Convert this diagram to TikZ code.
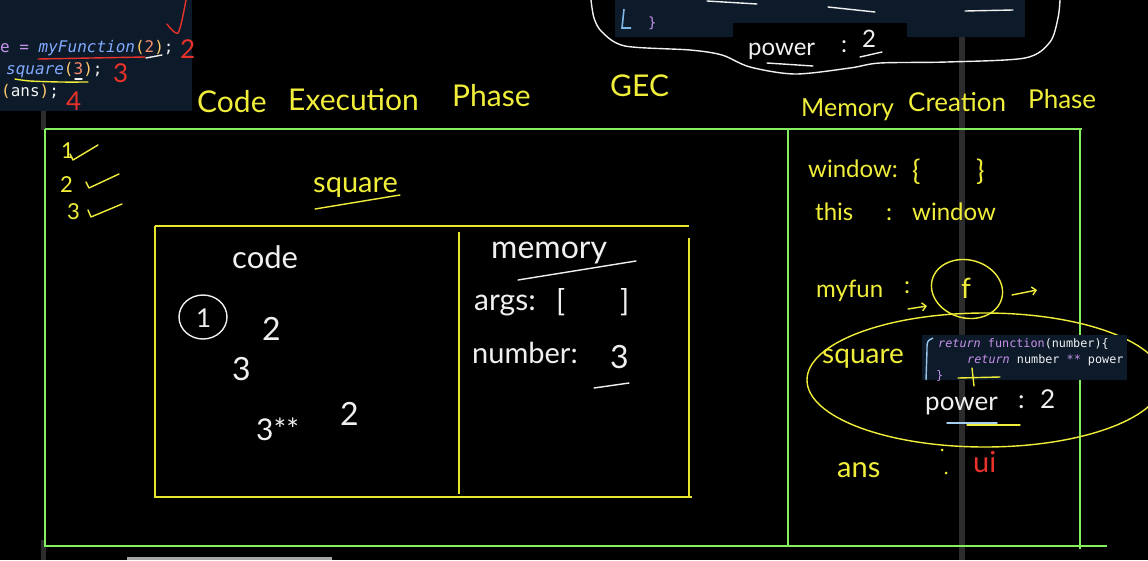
\documentclass[tikz,border=0pt]{standalone}
\usepackage{fontspec}
\setmainfont{Lato}
\newfontfamily\codefont{DejaVu Sans Mono}
\usetikzlibrary{arrows.meta}
\definecolor{Board}{HTML}{000000}
\definecolor{Chalk}{HTML}{F0F0F0}
\definecolor{Marker}{HTML}{F0EE3A}
\definecolor{BoxYellow}{HTML}{E8E62A}
\definecolor{Frame}{HTML}{84F060}
\definecolor{Ink}{HTML}{E8322A}
\definecolor{Panel}{HTML}{0C1A2A}
\definecolor{Seam}{HTML}{2C2C2C}
\definecolor{KwPurple}{HTML}{C792EA}
\definecolor{FnBlue}{HTML}{82AAFF}
\definecolor{ParenGold}{HTML}{FFCB6B}
\definecolor{NumOrange}{HTML}{F78C6C}
\definecolor{PaleBlue}{HTML}{7FB8E8}

\begin{document}
\begin{tikzpicture}[x=1pt,y=-1pt,
txt/.style={anchor=base west,inner sep=0pt,text=Marker,font=\fontsize{26}{26}\selectfont},
wtxt/.style={txt,text=Chalk},
rtxt/.style={txt,text=Ink},
head/.style={txt,font=\fontsize{30}{30}\selectfont},
code/.style={anchor=base west,inner sep=0pt,text=Chalk!85,font=\codefont\fontsize{16}{16}\selectfont},
snip/.style={code,font=\codefont\fontsize{11.8}{12}\selectfont},
pen/.style={line width=1.4pt,line cap=round,line join=round},
arr/.style={pen,-{Straight Barb[length=4pt]}}]
\useasboundingbox (0,0) rectangle (1148,560);
\fill[Board] (0,0) rectangle (1148,560);
\clip (0,0) rectangle (1148,560);

% screen seams and code panels
\fill[Seam] (959,37) rectangle (965,560);
\fill[Seam] (41,110) rectangle (46,130);
\fill[Seam] (41,540) rectangle (46,560);
\fill[gray!70] (127,557) rectangle (332,560);
\fill[Panel] (0,0) rectangle (192,111);
\fill[Panel] (615,0) rectangle (1025,37);
\fill[Board] (733,23) rectangle (907,37);

% left code
\node[code] (l1) at (0,52) {{\color{KwPurple}e =} {\color{FnBlue}\itshape myFunction}{\color{ParenGold}(}{\color{NumOrange}2}{\color{ParenGold})};};
\node[code] (l2) at (6,74) {{\color{FnBlue}\itshape square}{\color{ParenGold}(}{\color{NumOrange}3}{\color{ParenGold})};};
\node[code] (l3) at (1,96) {{\color{ParenGold}(}ans{\color{ParenGold})};};
\draw[pen,Ink] (38,59) -- (145,57);
\draw[pen,Chalk] (146,58) -- (162,55);
\draw[pen,Marker] plot[smooth] coordinates {(15,79) (30,81) (60,82) (88,82)};
\draw[pen,Chalk] (75,79) -- (82,79);
\draw[pen,Ink] plot[smooth] coordinates {(167,24) (172,30) (178,33) (182,20) (186,0)};
\node[rtxt] (n2) at (180,58) {2};
\node[rtxt] (n3) at (113,82) {3};
\node[rtxt] (n4) at (66,110) {4};

% top code fragment
\draw[line width=1.6pt,PaleBlue] (624,9) -- (622,28) -- (631,28);
\node[code,text=KwPurple,font=\codefont\fontsize{14}{14}\selectfont] (brc) at (648,27) {\}};
\draw[pen,Chalk] (707,1) -- (757,4);
\draw[pen,Chalk] (828,7) -- (875,12);
\draw[pen,Chalk] (965,11) -- (1013,10);
\node[wtxt,font=\fontsize{24}{24}\selectfont] (pw1) at (748,55) {power};
\node[wtxt,font=\fontsize{24}{24}\selectfont] (pc1) at (841,52) {:};
\node[wtxt,font=\fontsize{24}{24}\selectfont] (pv1) at (862,47) {2};
\draw[pen,Chalk] (767,63) -- (813,66);
\draw[pen,Chalk] (860,57) -- (882,52);
\draw[pen,Chalk] plot[smooth] coordinates {(591,0) (594,18) (602,32) (625,46) (690,50) (722,55) (750,67) (795,74) (850,68) (880,63) (947,62) (1025,58) (1050,42) (1058,18) (1060,0)};

% headings
\node[head] (h1) at (197,112) {Code};
\node[head] (h2) at (288,110) {Execution};
\node[head] (h3) at (452,106) {Phase};
\node[head] (h4) at (610,96) {GEC};
\node[head,font=\fontsize{25}{25}\selectfont] (m1) at (801,116) {Memory};
\node[head,font=\fontsize{26}{26}\selectfont] (m2) at (908,111) {Creation};
\node[head,font=\fontsize{26}{26}\selectfont] (m3) at (1028,108) {Phase};

% frames
\draw[Frame,line width=2pt] (45,129) -- (1082,129);
\draw[Frame,line width=2pt] (45,129) -- (45,546) -- (1107,546);
\draw[Frame,line width=1.6pt] (1080,128) -- (1080,549);
\draw[Frame,line width=1.6pt] (788,129) -- (788,546);
\draw[BoxYellow,line width=2pt] (155,226) -- (689,226);
\draw[BoxYellow,line width=2.4pt] (155,226) -- (155,497) -- (692,497);
\draw[BoxYellow,line width=1.8pt] (689,238) -- (689,497);
\draw[BoxYellow,line width=1.8pt] (459,232) -- (459,494);

% ticks
\node[txt,font=\fontsize{22}{22}\selectfont] (t1) at (61,158) {1};
\draw[pen,Marker] (70,154) -- (73,160) -- (98,145);
\node[txt,font=\fontsize{22}{22}\selectfont] (t2) at (60,192) {2};
\draw[pen,Marker] (86,182) -- (89,188) -- (119,174);
\node[txt,font=\fontsize{22}{22}\selectfont] (t3) at (67,219) {3};
\draw[pen,Marker] (88,210) -- (91,217) -- (122,204);

% square call
\node[txt,font=\fontsize{29}{29}\selectfont] (sq) at (313,192) {square};
\draw[pen,Marker] (315,209) -- (400,195);

% code side
\node[wtxt,font=\fontsize{31}{31}\selectfont] (cd) at (232,268) {code};
\draw[pen,Chalk] (203,317) ellipse[x radius=24,y radius=22];
\node[wtxt] (c1) at (196,327) {1};
\node[wtxt,font=\fontsize{32}{32}\selectfont] (c2) at (262,340) {2};
\node[wtxt,font=\fontsize{32}{32}\selectfont] (c3) at (232,380) {3};
\node[wtxt,font=\fontsize{30}{30}\selectfont] (c4) at (256,440) {3**};
\node[wtxt,font=\fontsize{32}{32}\selectfont] (c5) at (340,425) {2};

% memory side
\node[wtxt,font=\fontsize{32}{32}\selectfont] (mm) at (491,258) {memory};
\draw[pen,Chalk] (518,280) -- (636,261);
\node[wtxt,font=\fontsize{30}{30}\selectfont] (ak) at (474,310) {args:};
\node[wtxt,font=\fontsize{30}{30}\selectfont] (ao) at (556,311) {[};
\node[wtxt,font=\fontsize{30}{30}\selectfont] (ac) at (620,311) {]};
\node[wtxt,font=\fontsize{29}{29}\selectfont] (nk) at (472,363) {number:};
\node[wtxt,font=\fontsize{32}{32}\selectfont] (nv) at (610,368) {3};
\draw[pen,Chalk] (594,388) -- (629,383);

% memory creation phase
\node[txt,font=\fontsize{24}{24}\selectfont] (wk) at (808,177) {window:};
\node[txt,font=\fontsize{28}{28}\selectfont] (wo) at (912,180) {\{};
\node[txt,font=\fontsize{28}{28}\selectfont] (wc) at (976,180) {\}};
\node[txt,font=\fontsize{24}{24}\selectfont] (tk) at (815,220) {this};
\node[txt,font=\fontsize{24}{24}\selectfont] (tc) at (886,220) {:};
\node[txt,font=\fontsize{24}{24}\selectfont] (tv) at (912,220) {window};
\node[txt,font=\fontsize{24}{24}\selectfont] (fk) at (816,297) {myfun};
\node[txt,font=\fontsize{24}{24}\selectfont] (fc) at (904,293) {:};
\node[txt,font=\fontsize{28}{28}\selectfont] (fv) at (961,298) {f};
\draw[pen,Marker,rotate around={-15:(967,289)}] (967,289) ellipse[x radius=36,y radius=29];
\coordinate (fin) at (908,309);
\coordinate (fat) at (927,306);
\coordinate (fout) at (1012,295);
\coordinate (fgo) at (1037,290);
\draw[arr,Marker] (fin) -- (fat);
\draw[arr,Marker] (fout) -- (fgo);

% closure
\draw[pen,Marker] (985,380) ellipse[x radius=178,y radius=67];
\node[txt,font=\fontsize{28}{28}\selectfont] (sk) at (822,363) {square};
\fill[Panel] (922,335) rectangle (1127,380);
\draw[line width=1.4pt,PaleBlue!80] (933,338) .. controls (927,341) .. (927,350) -- (926,380);
\node[snip] (s1) at (938,347) {{\color{KwPurple}\itshape return} {\color{KwPurple}function}(number)\{};
\node[snip] (s2) at (967,363) {{\color{KwPurple}\itshape return} number {\color{KwPurple}**} power};
\node[snip,text=KwPurple] (s3) at (936,379) {\}};
\draw[pen,Marker] (958,378) -- (1000,377);
\draw[pen,Marker] (972,368) -- (974,386);
\node[wtxt] (pw2) at (925,410) {power};
\node[wtxt] (pc2) at (1018,408) {:};
\node[wtxt] (pv2) at (1040,408) {2};
\draw[pen,PaleBlue!70] (947,423) -- (997,423);
\draw[pen,Marker] (967,425) -- (1020,425);

% answer
\node[txt,font=\fontsize{29}{29}\selectfont] (ak2) at (837,477) {ans};
\fill[Marker] (942,450) circle (1.5) (946,473) circle (1.5);
\node[rtxt,font=\fontsize{29}{29}\selectfont] (av) at (973,472) {ui};
\end{tikzpicture}
\end{document}
